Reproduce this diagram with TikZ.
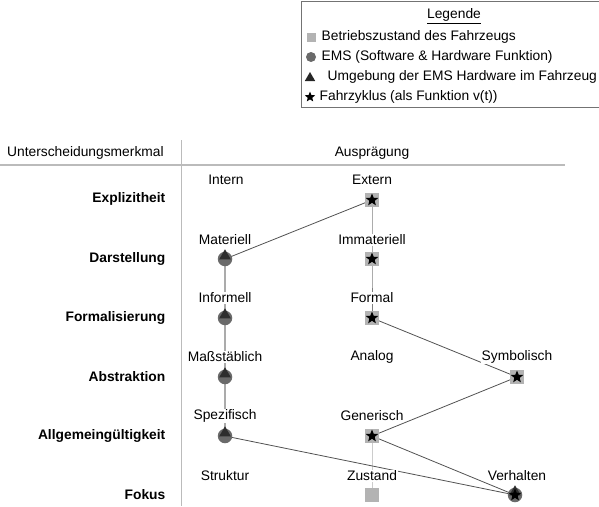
\documentclass[tikz,border=0pt]{standalone}
\usepackage{fontspec}
\setmainfont{Liberation Sans}
\usetikzlibrary{shapes.geometric}

\definecolor{sqgray}{HTML}{B3B3B3}
\definecolor{circgray}{HTML}{6A6A6A}
\definecolor{trigray}{HTML}{2E2E2E}
\definecolor{rulegray}{HTML}{BBBBBB}

\tikzset{
  txt/.style={font=\fontsize{13.8}{16}\selectfont, inner sep=1pt},
  opt/.style={txt, fill=white},
  rowlbl/.style={txt, font=\fontsize{13.8}{16}\selectfont\bfseries, anchor=east},
  legtxt/.style={txt, anchor=west},
  sqm/.style={rectangle, fill=sqgray, minimum size=#1, inner sep=0pt},
  sqm/.default=14pt,
  circm/.style={circle, fill=circgray, minimum size=#1, inner sep=0pt},
  circm/.default=14.5pt,
  trim/.style={regular polygon, regular polygon sides=3, fill=trigray, minimum size=#1, inner sep=0pt},
  trim/.default=13.5pt,
  starm/.style={star, star points=5, star point ratio=2.3, fill=black, minimum size=#1, inner sep=0pt},
  starm/.default=13pt,
  pathline/.style={draw=#1, line width=0.8pt},
  pathline/.default={black!68},
  colline/.style={draw=black!33, line width=2pt},
  stepline/.style={draw=black!50, line width=1pt},
  faintline/.style={draw=black!20, line width=1pt},
}

\begin{document}
\begin{tikzpicture}[x=1pt, y=-1pt]
\useasboundingbox (0,0) rectangle (599,506);
\clip (0,0) rectangle (599,506);

% ---------- legend ----------
\draw[draw=black!55, line width=0.8pt] (301.5,1.5) rectangle (640,107);
\node[txt] (legtitle) at (454,16) {\underline{Legende}};
\node[sqm=9pt] (lsq) at (311,37) {};
\node[legtxt] (l1) at (320.5,37) {Betriebszustand des Fahrzeugs};
\node[circm=10pt] (lci) at (311,57) {};
\node[legtxt] (l2) at (320.5,57) {EMS (Software \& Hardware Funktion)};
\node[trim=12pt, fill=black!85] (ltr) at (310,78) {};
\node[legtxt] (l3) at (326.5,77) {Umgebung der EMS Hardware im Fahrzeug};
\node[starm=11pt] (lst) at (310,97) {};
\node[legtxt] (l4) at (318.5,97) {Fahrzyklus (als Funktion v(t))};

% ---------- table frame ----------
\coordinate (hl) at (0,165);
\coordinate (hr) at (565,165);
\coordinate (vt) at (181.5,140);
\coordinate (vb) at (181.5,506);
\draw[draw=rulegray, line width=1.8pt] (hl) -- (hr);
\draw[draw=rulegray, line width=1.2pt] (vt) -- (vb);
\node[txt, anchor=west] (hdA) at (6,153) {Unterscheidungsmerkmal};
\node[txt] (hdB) at (372,153) {Ausprägung};

% ---------- row captions ----------
\node[rowlbl] (r1) at (166.5,199) {Explizitheit};
\node[rowlbl] (r2) at (166.5,259) {Darstellung};
\node[rowlbl] (r3) at (166.5,318) {Formalisierung};
\node[rowlbl] (r4) at (166.5,377) {Abstraktion};
\node[rowlbl] (r5) at (166.5,436) {Allgemeingültigkeit};
\node[rowlbl] (r6) at (166.5,495) {Fokus};

% ---------- marker positions ----------
\coordinate (mExt)  at (372,200);
\coordinate (mMat)  at (225,259);
\coordinate (mImm)  at (372,259);
\coordinate (mInf)  at (225,318);
\coordinate (mForm) at (372,318);
\coordinate (mMass) at (225,377);
\coordinate (mSym)  at (517,377);
\coordinate (mSpez) at (225,436);
\coordinate (mGen)  at (372,436);
\coordinate (mZust) at (372,495);
\coordinate (mVerh) at (515,495);

% ---------- connectors ----------
\draw[colline] (mMat) -- (mInf) -- (mMass) -- (mSpez);
\draw[stepline] (mExt) -- (mImm) -- (mForm);
\draw[faintline] (mGen) -- (mZust);
\draw[pathline] (mExt) -- (mMat);
\draw[pathline] (mForm) -- (mSym) -- (mGen) -- (mVerh);
\draw[pathline] (mSpez) -- (mVerh);

% ---------- option labels ----------
\node[opt] (oInt)  at (226,180) {Intern};
\node[opt] (oExt)  at (372,180) {Extern};
\node[opt] (oMat)  at (225,240) {Materiell};
\node[opt] (oImm)  at (372,240) {Immateriell};
\node[opt] (oInf)  at (225,298) {Informell};
\node[opt] (oForm) at (372,298) {Formal};
\node[opt] (oMass) at (225,357) {Maßstäblich};
\node[opt] (oAna)  at (372,357) {Analog};
\node[opt] (oSym)  at (517,357) {Symbolisch};
\node[opt] (oSpez) at (225,416) {Spezifisch};
\node[opt] (oGen)  at (372,416) {Generisch};
\node[opt] (oStr)  at (225,476) {Struktur};
\node[opt] (oZust) at (372,476) {Zustand};
\node[opt] (oVerh) at (517,476) {Verhalten};

% ---------- markers ----------
% vehicle state + drive cycle
\foreach \p in {mExt, mImm, mForm, mSym, mGen} {
  \node[sqm] at (\p) {};
  \node[starm] at (\p) {};
}
% EMS + its hardware environment
\foreach \p in {mMat, mInf, mMass, mSpez} {
  \node[circm] at (\p) {};
  \node[trim] at ([yshift=3pt]\p) {};
}
% state only
\node[sqm] at (mZust) {};
% behaviour
\node[circm] at (mVerh) {};
\node[trim] at ([yshift=3pt]mVerh) {};
\node[starm] at (mVerh) {};

\end{tikzpicture}
\end{document}
